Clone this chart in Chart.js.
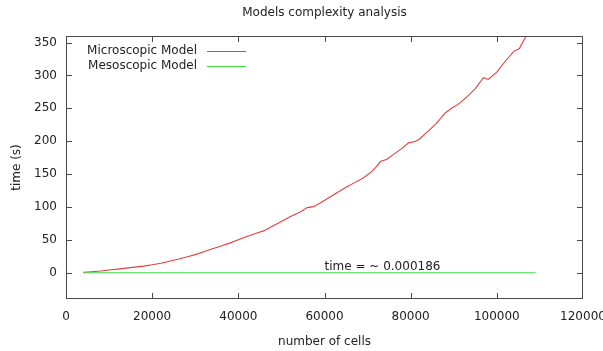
<!DOCTYPE html>
<html>
<head>
<meta charset="utf-8">
<script src="https://cdn.jsdelivr.net/npm/chart.js@4"></script>
<style>
    html, body { margin: 0; padding: 0; background: #fff; }
    #wrap { width: 603px; height: 351px; }
</style>
</head>
<body>
<div id="wrap"><canvas id="chart-complexity"></canvas></div>
<script>
// data
const cellsMicro = [4000, 6000, 8000, 10000, 12000, 14000, 16000, 18000, 20000, 22000,
    24000, 26000, 28000, 30000, 32000, 34000, 36000, 38000, 40000, 42000,
    44000, 46000, 48000, 50000, 52000, 54000, 55000, 56000, 57500,
    59000, 61000, 63000, 65000, 67000, 69000, 71000, 72000, 73000, 74500,
    76000, 78000, 79500, 81000, 82000, 84000, 86000, 88000, 89500, 91000,
    93000, 95000, 96900, 98000, 100000, 102000, 104000, 105200, 106800, 108000, 109000];
const timeMicro = [0.5, 1.5, 2.5, 4, 5.5, 7, 8.5, 10, 12, 14.5,
    17.5, 20.5, 24, 27.5, 32, 36.5, 40.5, 45, 50, 55,
    59.5, 64, 71, 78, 85, 91, 95, 99, 100.5,
    106, 114, 122, 130, 137, 144, 154, 161, 169, 172.5,
    180, 189, 197.5, 199.5, 203, 215, 227, 243, 250, 256,
    267, 280, 296.5, 294, 305, 322, 337, 340.5, 360, 372, 380];
const cellsMeso = [4000, 109000];
const timeMeso = [0.000186, 0.000186];

const xTicks = [0, 20000, 40000, 60000, 80000, 100000, 120000];
const yTicks = [0, 50, 100, 150, 200, 250, 300, 350];

const seriesNames = ['Microscopic Model', 'Mesoscopic Model'];
const chartTitle = 'Models complexity analysis';
const noteText = 'time = ~ 0.000186';

const FONT = 'DejaVu Sans';
const FONT_SIZE = 12;
const RED = 'rgb(228, 62, 62)';
const GREEN = 'rgb(70, 215, 70)';

function toPoints(xs, ys) {
    return xs.map((x, i) => ({ x: x, y: ys[i] }));
}

// gnuplot style frame: box, inward ticks on every side, key and label
const gnuplotFrame = {
    id: 'gnuplotFrame',
    afterDraw(chart) {
        const ctx = chart.ctx;
        const area = chart.chartArea;
        const xs = chart.scales.x;
        const ys = chart.scales.y;
        const tick = 6;

        ctx.save();
        ctx.strokeStyle = '#4a4a4a';
        ctx.lineWidth = 1;
        ctx.strokeRect(area.left + 0.5, area.top + 0.5, area.right - area.left - 1, area.bottom - area.top - 1);

        ctx.beginPath();
        xTicks.forEach(v => {
            const px = Math.round(xs.getPixelForValue(v)) + 0.5;
            if (px <= area.left + 1 || px >= area.right - 1) return;
            ctx.moveTo(px, area.bottom);
            ctx.lineTo(px, area.bottom - tick);
            ctx.moveTo(px, area.top);
            ctx.lineTo(px, area.top + tick);
        });
        yTicks.forEach(v => {
            const py = Math.round(ys.getPixelForValue(v)) + 0.5;
            ctx.moveTo(area.left, py);
            ctx.lineTo(area.left + tick, py);
            ctx.moveTo(area.right, py);
            ctx.lineTo(area.right - tick, py);
        });
        ctx.stroke();

        // title, centred over the plot
        ctx.fillStyle = '#222';
        ctx.font = FONT_SIZE + 'px "' + FONT + '"';
        ctx.textAlign = 'center';
        ctx.textBaseline = 'middle';
        ctx.fillText(chartTitle, (area.left + area.right) / 2, 13);

        // key
        const colors = [RED, GREEN];
        seriesNames.forEach((name, i) => {
            const y = 50.5 + i * 15;
            ctx.fillStyle = '#222';
            ctx.textAlign = 'right';
            ctx.fillText(name, 197, y);
            ctx.strokeStyle = colors[i];
            ctx.beginPath();
            ctx.moveTo(207, Math.round(y) + 0.5);
            ctx.lineTo(246, Math.round(y) + 0.5);
            ctx.stroke();
        });

        // label on the mesoscopic line
        ctx.fillStyle = '#222';
        ctx.textAlign = 'left';
        ctx.fillText(noteText, xs.getPixelForValue(60000), ys.getPixelForValue(8.5));
        ctx.restore();
    }
};

function createComplexityChart(idChart) {
    const ctx = document.getElementById(idChart).getContext('2d');

    return new Chart(ctx, {
        type: 'line',
        data: {
            datasets: [{
                label: seriesNames[0],
                data: toPoints(cellsMicro, timeMicro),
                borderColor: RED,
                borderWidth: 1.1,
                pointRadius: 0,
                order: 1,
            },
            {
                label: seriesNames[1],
                data: toPoints(cellsMeso, timeMeso),
                borderColor: GREEN,
                borderWidth: 1.1,
                pointRadius: 0,
                order: 0,
            }]
        },
        options: {
            responsive: false,
            animation: false,
            layout: {
                padding: { left: 0, right: 20, top: 36, bottom: 0 }
            },
            plugins: {
                legend: { display: false },
                tooltip: { enabled: false },
            },
            scales: {
                x: {
                    type: 'linear',
                    min: 0,
                    max: 120000,
                    afterBuildTicks: scale => { scale.ticks = xTicks.map(v => ({ value: v })); },
                    afterFit: scale => {
                        scale.height = 52;
                        // keep the edge labels from shrinking the plot
                        scale.paddingLeft = 0;
                        scale.paddingRight = 0;
                    },
                    grid: { display: false, drawTicks: false },
                    border: { display: false },
                    ticks: {
                        padding: 11,
                        maxRotation: 0,
                        color: '#222',
                        font: { family: FONT, size: FONT_SIZE },
                        callback: v => String(v),
                    },
                    title: {
                        display: true,
                        text: 'number of cells',
                        color: '#222',
                        font: { family: FONT, size: FONT_SIZE },
                        padding: { top: 0, bottom: 2 },
                    },
                },
                y: {
                    min: -40,
                    max: 360,
                    afterBuildTicks: scale => { scale.ticks = yTicks.map(v => ({ value: v })); },
                    afterFit: scale => { scale.width = 66; },
                    grid: { display: false, drawTicks: false },
                    border: { display: false },
                    ticks: {
                        padding: 9,
                        color: '#222',
                        font: { family: FONT, size: FONT_SIZE },
                    },
                    title: {
                        display: true,
                        text: 'time (s)',
                        color: '#222',
                        font: { family: FONT, size: FONT_SIZE },
                        padding: { top: 10, bottom: 0 },
                    },
                }
            }
        },
        plugins: [gnuplotFrame]
    });
}

const canvas = document.getElementById('chart-complexity');
canvas.width = 603;
canvas.height = 351;
createComplexityChart('chart-complexity');
</script>
</body>
</html>
